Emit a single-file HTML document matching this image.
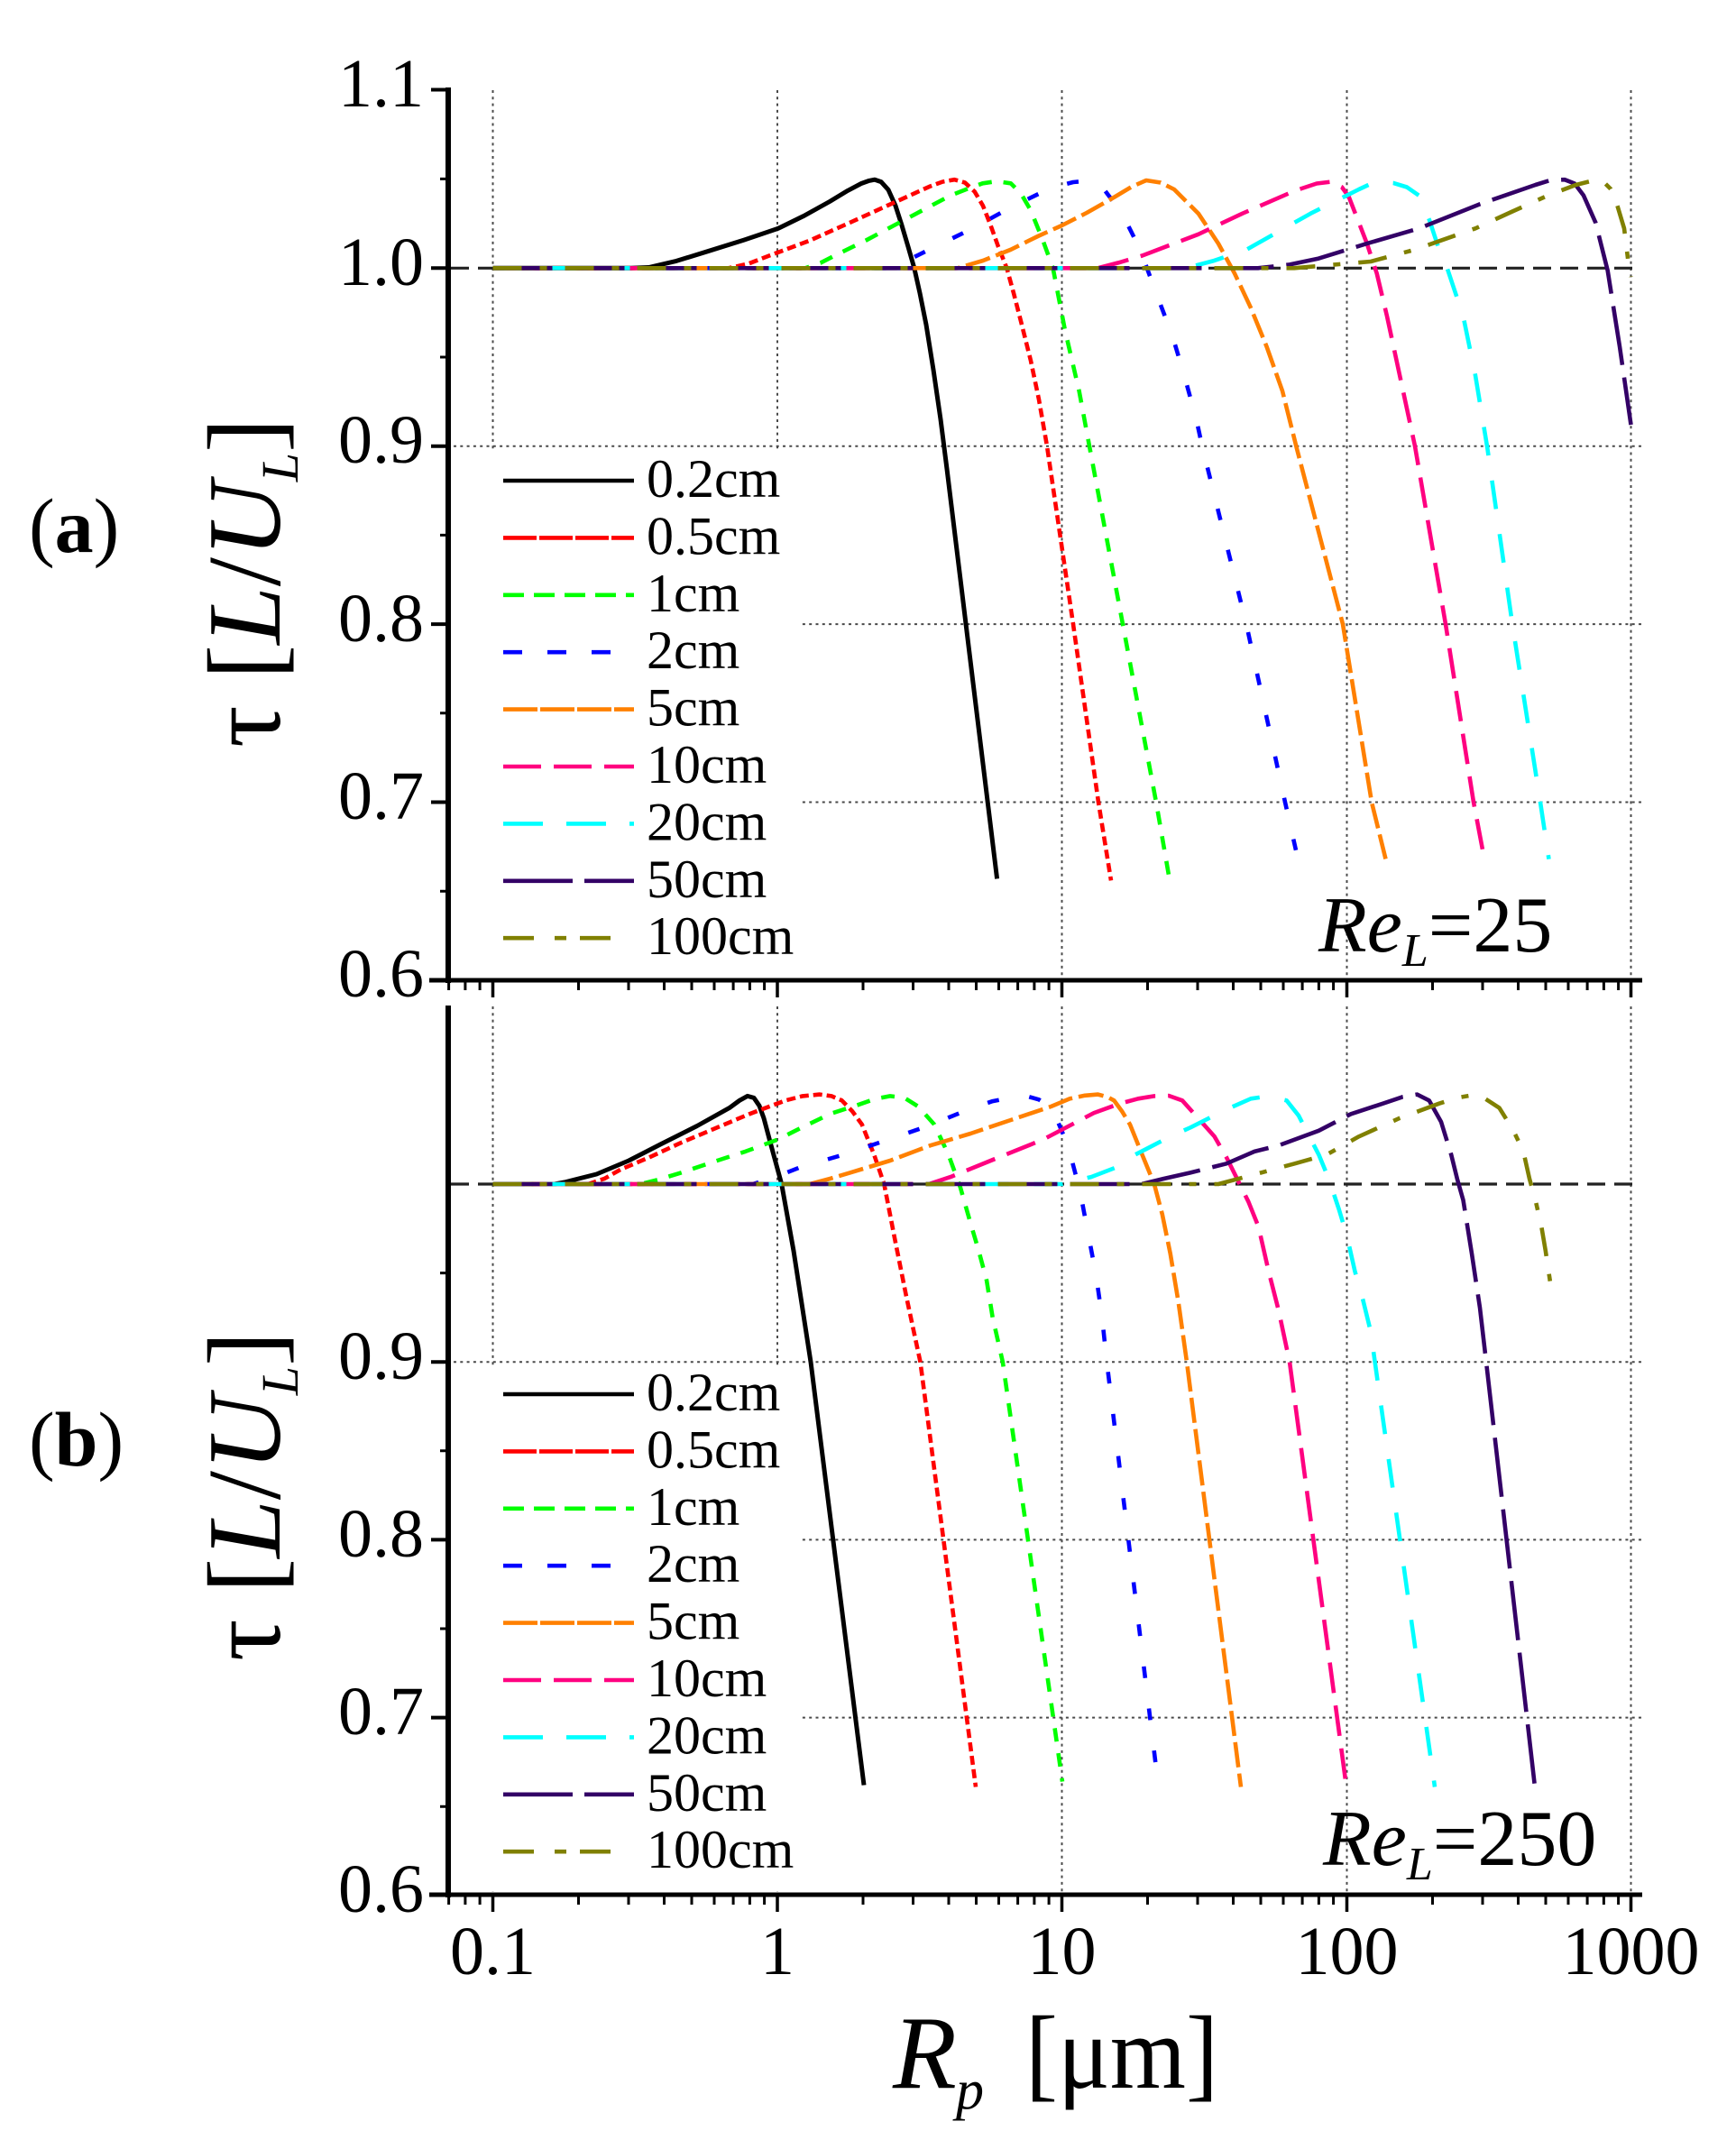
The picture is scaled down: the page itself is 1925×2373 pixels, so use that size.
<!DOCTYPE html>
<html>
<head>
<meta charset="utf-8">
<style>
html,body{margin:0;padding:0;background:#fff;}
svg{display:block;}
text{font-family:"Liberation Serif","Times New Roman",serif;fill:#000;}
</style>
</head>
<body>
<svg xmlns="http://www.w3.org/2000/svg" width="1925" height="2373" viewBox="0 0 1925 2373">
<rect width="1925" height="2373" fill="#fff"/>

<!-- gridlines -->
<g stroke="#4a4a4a" stroke-width="2" stroke-dasharray="3 4.3" fill="none">
<path d="M546.5 100V1085 M862 100V1085 M1177.5 100V1085 M1493.5 100V1085 M1808.5 100V1085 M503 494.7H1820 M503 692.1H1820 M503 889.5H1820"/>
<path d="M546.5 1116V2099 M862 1116V2099 M1177.5 1116V2099 M1493.5 1116V2099 M1808.5 1116V2099 M503 1510.2H1820 M503 1707.4H1820 M503 1904.6H1820"/>
</g>
<!-- legend boxes -->
<rect x="502" y="500" width="385" height="583" fill="#fff"/>
<rect x="502" y="1514" width="385" height="583" fill="#fff"/>

<!-- 1.0 dashed reference lines -->
<path d="M500 297.3H1820 M500 1313H1820" stroke="#222" stroke-width="3.2" stroke-dasharray="20 10" fill="none"/>

<!-- Panel a curves -->
<g fill="none" stroke-linejoin="round" stroke-width="4.6">
<polyline stroke="#000" stroke-width="5" points="546.5,297.3 700,297.3 719.5,296.5 750,289.4 786,278.3 825,266.1 863,253.3 892,239.1 920,223.5 940,211.4 955,203.5 963,200.6 970,199.2 977,201.6 985,210.4 993,228.2 1000,249.9 1007,273.6 1013.8,297.3 1020,325 1027,360 1035,410 1043,465 1050,520 1105.6,974.4"/>
<polyline stroke="#ff0000" stroke-dasharray="10 5" points="546.5,297.3 808,297.3 830,292.4 853,283.5 898,266.7 942.5,246.8 987,226.6 1031.6,206.5 1045,201.6 1058.4,199.2 1070,202.5 1080.7,212.4 1090,228.2 1098.5,249.9 1107,273.6 1116.4,297.3 1124,325 1133,360 1143,400 1152,443 1161,494.7 1190,692.1 1218,889.5 1232,976.4"/>
<polyline stroke="#00ff00" stroke-dasharray="15 13" points="546.5,297.3 893,297.3 910,291.4 929,281.7 960,266.7 991.5,249.9 1022.7,233.3 1054,216.8 1075,208.5 1089.6,203.3 1105,201 1120.8,203.3 1132,214.4 1143,233.3 1156.5,266.7 1167.6,297.3 1181,366.4 1196.6,433.5 1208,494.7 1245,692.1 1282,889.5 1296,970.4"/>
<polyline stroke="#0000ff" stroke-dasharray="13 34" points="546.5,297.3 982,297.3 1005,289.4 1034,275 1078.5,253.3 1120.8,230 1165.4,208.3 1190,202 1205,200.6 1220,204.5 1244,236.1 1264.3,276.8 1282,324.9 1300,372.3 1313,415.7 1326.6,465.1 1333,494.7 1382,692.1 1425,889.5 1437,942.8"/>
<polyline stroke="#ff8000" stroke-dasharray="28 7" points="546.5,297.3 1062,297.3 1090,289 1120.8,276.8 1150.8,262 1177.5,250 1205,236 1235,219 1255,207 1271,200 1287,202.5 1302,210 1328.8,236.7 1351,270.1 1369,303.2 1386.7,340.7 1404.5,384.2 1422,433.5 1437.8,496.7 1489,692.1 1521,889.5 1538,958.6"/>
<polyline stroke="#ff0080" stroke-dasharray="34 14" points="546.5,297.3 1217,297.3 1240,291.4 1266.5,283.5 1328.8,259.8 1377.8,236.7 1435.6,211.6 1460,203.5 1475.6,201.6 1488,207.5 1495.7,218.3 1506.8,246.8 1515.8,270.1 1526.7,303.2 1538,350.6 1569,494.7 1603,692.1 1634,889.5 1646,952.7"/>
<polyline stroke="#00ffff" stroke-dasharray="32 28" points="546.5,297.3 1315,297.3 1345,289.4 1382.2,276.8 1453.4,236.7 1506.8,210 1524.6,201.7 1545,202.9 1560,207.5 1573.5,216.8 1585,244 1595.8,276.8 1604.7,297.3 1622.5,350.6 1635.9,415.7 1649.3,496.7 1677,692.1 1708,889.5 1717.5,952.7"/>
<polyline stroke="#330066" stroke-dasharray="66 14" points="546.5,297.3 1395,297.3 1430,293.4 1462.3,286.6 1515.7,270.1 1573.5,253.3 1640.3,226.6 1702.6,205 1720,199.6 1735,199.2 1746,203.5 1756,216.8 1769.3,246.8 1782.7,300.1 1796,384.2 1808.5,471"/>
<polyline stroke="#808000" stroke-dasharray="32 20 8 20" points="546.5,297.3 1435,297.3 1520,290 1569,276.8 1636,253.3 1676.2,234.9 1716.3,216.8 1747.5,205 1765,200.6 1777,200.6 1786,209.5 1792,223.3 1801,253.3 1805.5,290 1808.5,307"/>
</g>

<!-- Panel b curves -->
<g fill="none" stroke-linejoin="round" stroke-width="4.6">
<polyline stroke="#000" stroke-width="5" points="546.5,1313 615,1313 625.9,1311 661.5,1302 697.2,1287 733,1268.6 773,1248.5 808.7,1228.6 820,1220.3 828.8,1215.4 836,1217.4 842,1226.2 847,1240 853.3,1263.7 866.7,1313 880,1387 899,1510.2 958,1979.5"/>
<polyline stroke="#ff0000" stroke-dasharray="10 5" points="546.5,1313 652,1313 670,1307.1 688.3,1296.8 719.5,1283.6 755.2,1267.1 790.9,1252.1 831,1235.3 871,1220.3 890,1215.4 909,1213.6 922,1215.4 933.5,1220.3 945,1232.1 955.8,1246.9 969.2,1280.3 980.4,1313 991.5,1370.2 1004.9,1437.2 1020.5,1510.2 1082,1981.5"/>
<polyline stroke="#00ff00" stroke-dasharray="15 13" points="546.5,1313 710,1313 730,1308.1 755.2,1300.4 795.3,1287 826.5,1276.9 862.2,1263.7 889,1250.3 920.2,1235.3 951.4,1225.2 970,1218.7 987,1215.4 1003,1217.4 1018.2,1227 1036,1246.9 1051.7,1280.3 1065,1317 1076.2,1356.4 1085,1386 1094,1419.5 1100.7,1460.9 1111.9,1510.2 1178,1975.6"/>
<polyline stroke="#0000ff" stroke-dasharray="13 34" points="546.5,1313 835,1313 860,1305.1 889,1293.7 935.8,1280.3 984.8,1263.7 1029.4,1248.5 1074,1230.2 1100,1221.3 1120.8,1217 1138,1215.4 1152,1219.3 1166.4,1228.2 1184.2,1270.2 1197.5,1320.3 1206.4,1366.8 1215.3,1413.6 1222,1460.3 1227.3,1510.2 1285,1985"/>
<polyline stroke="#ff8000" stroke-dasharray="28 7" points="546.5,1313 898,1313 920,1307.1 942.5,1300.4 987,1287 1031.6,1270.2 1076.2,1257 1120.8,1242 1165.4,1227 1186.4,1218.3 1203,1214.8 1217.5,1213.6 1228,1216.4 1235.3,1220.3 1244,1232.1 1253,1246.9 1266.5,1280.3 1279.9,1313 1288.8,1346.5 1297.7,1389.9 1306.6,1443.2 1316,1510.2 1376,1981.5"/>
<polyline stroke="#ff0080" stroke-dasharray="34 14" points="546.5,1313 1030,1313 1054,1305.1 1107.4,1283.4 1156.5,1263.7 1213,1234.1 1240,1224.3 1262,1218.3 1280,1215.4 1296,1215 1311,1220.3 1328.8,1240.2 1346.6,1260.1 1360,1283.4 1373.3,1310.2 1384.4,1332.7 1395.5,1360.3 1406.7,1409.6 1417.8,1453 1430,1510.2 1493,1981.5"/>
<polyline stroke="#00ffff" stroke-dasharray="32 28" points="546.5,1313 1177.5,1313 1210,1305.1 1239.8,1293.7 1253,1283.4 1298,1260.1 1320,1250.3 1360,1230.2 1387,1218.3 1400,1216.4 1415,1217.4 1426.7,1220.3 1440,1237.1 1462.3,1280.3 1473.4,1307.1 1484.6,1340.6 1493.5,1370.2 1502.4,1409.6 1511.3,1441.2 1520,1476.7 1524.6,1510.2 1591,1981.5"/>
<polyline stroke="#330066" stroke-dasharray="66 14" points="546.5,1313 1266,1313 1290,1307.1 1319.9,1300.4 1360,1290.3 1391,1276.9 1417.8,1270.2 1462.3,1253.8 1498,1235.3 1533.5,1223.7 1555,1216.4 1571.3,1213.6 1584.7,1220.3 1598,1244 1609.2,1280.3 1615.8,1307.1 1622.5,1330.7 1632,1390 1641,1450 1648,1510.2 1702,1981.5"/>
<polyline stroke="#808000" stroke-dasharray="32 20 8 20" points="546.5,1313 1351,1313 1386.7,1303.5 1435.6,1290.3 1471.2,1280.3 1506.8,1260.3 1551.3,1240.2 1595.8,1223.7 1615,1217.4 1631.4,1214.6 1644.8,1217 1662.6,1228.6 1678,1253.4 1689.2,1276.7 1696,1307.1 1702.6,1330.7 1709.3,1360.3 1713.8,1386.8 1720.5,1431.9"/>
</g>

<!-- Axes -->
<g stroke="#000" fill="none">
<path d="M497 97V1090" stroke-width="6"/>
<path d="M476 1087H1821" stroke-width="5"/>
<path d="M478 99.5H497 M478 297.3H497 M478 494.7H497 M478 692.1H497 M478 889.5H497" stroke-width="4"/>
<path d="M488 198.4H497 M488 396H497 M488 593.4H497 M488 790.8H497 M488 988.2H497" stroke-width="3"/>
<path d="M546.5 1087v19 M862 1087v19 M1177.5 1087v19 M1493.5 1087v19 M1808.5 1087v19" stroke-width="3.5"/>
<path d="M497.6 1087v11 M515.9 1087v11 M532.1 1087v11 M641.5 1087v11 M697 1087v11 M736.5 1087v11 M767 1087v11 M792 1087v11 M813.1 1087v11 M831.4 1087v11 M847.6 1087v11 M957 1087v11 M1012.5 1087v11 M1052 1087v11 M1082.5 1087v11 M1107.5 1087v11 M1128.6 1087v11 M1146.9 1087v11 M1163.1 1087v11 M1272.5 1087v11 M1328 1087v11 M1367.5 1087v11 M1398 1087v11 M1423 1087v11 M1444.1 1087v11 M1462.4 1087v11 M1478.6 1087v11 M1588.5 1087v11 M1644 1087v11 M1683.5 1087v11 M1714 1087v11 M1739 1087v11 M1760.1 1087v11 M1778.4 1087v11 M1794.6 1087v11" stroke-width="3"/>

<path d="M497 1115V2104" stroke-width="6"/>
<path d="M476 2101H1821" stroke-width="5"/>
<path d="M478 1510.2H497 M478 1707.4H497 M478 1904.6H497" stroke-width="4"/>
<path d="M488 1411.6H497 M488 1608.8H497 M488 1806H497 M488 2003.2H497" stroke-width="3"/>
<path d="M546.5 2101v19 M862 2101v19 M1177.5 2101v19 M1493.5 2101v19 M1808.5 2101v19" stroke-width="3.5"/>
<path d="M497.6 2101v11 M515.9 2101v11 M532.1 2101v11 M641.5 2101v11 M697 2101v11 M736.5 2101v11 M767 2101v11 M792 2101v11 M813.1 2101v11 M831.4 2101v11 M847.6 2101v11 M957 2101v11 M1012.5 2101v11 M1052 2101v11 M1082.5 2101v11 M1107.5 2101v11 M1128.6 2101v11 M1146.9 2101v11 M1163.1 2101v11 M1272.5 2101v11 M1328 2101v11 M1367.5 2101v11 M1398 2101v11 M1423 2101v11 M1444.1 2101v11 M1462.4 2101v11 M1478.6 2101v11 M1588.5 2101v11 M1644 2101v11 M1683.5 2101v11 M1714 2101v11 M1739 2101v11 M1760.1 2101v11 M1778.4 2101v11 M1794.6 2101v11" stroke-width="3"/>
</g>

<!-- Y tick labels -->
<g font-size="76" text-anchor="end">
<text x="470" y="118">1.1</text>
<text x="470" y="316">1.0</text>
<text x="470" y="513">0.9</text>
<text x="470" y="711">0.8</text>
<text x="470" y="908">0.7</text>
<text x="470" y="1105">0.6</text>
<text x="470" y="1529">0.9</text>
<text x="470" y="1726">0.8</text>
<text x="470" y="1923">0.7</text>
<text x="470" y="2120">0.6</text>
</g>

<!-- X tick labels -->
<g font-size="76" text-anchor="middle">
<text x="546.5" y="2189">0.1</text>
<text x="862" y="2189">1</text>
<text x="1177.5" y="2189">10</text>
<text x="1493.5" y="2189">100</text>
<text x="1808.5" y="2189">1000</text>
</g>

<!-- Legend a -->
<g fill="none" stroke-width="4.6">
<path d="M558 533H703" stroke="#000"/>
<path d="M558 596.4H703" stroke="#ff0000" stroke-dasharray="37 3"/>
<path d="M558 659.8H703" stroke="#00ff00" stroke-dasharray="23 11"/>
<path d="M558 723.2H703" stroke="#0000ff" stroke-dasharray="21 28"/>
<path d="M558 786.6H703" stroke="#ff8000" stroke-dasharray="38 3"/>
<path d="M558 850H703" stroke="#ff0080" stroke-dasharray="42 14"/>
<path d="M558 913.4H703" stroke="#00ffff" stroke-dasharray="44 26"/>
<path d="M558 976.8H703" stroke="#330066" stroke-dasharray="77 13"/>
<path d="M558 1040.2H690" stroke="#808000" stroke-dasharray="34 23 13 15"/>
</g>
<g font-size="60">
<text x="717" y="551">0.2cm</text>
<text x="717" y="614.4">0.5cm</text>
<text x="717" y="677.8">1cm</text>
<text x="717" y="741.2">2cm</text>
<text x="717" y="804.6">5cm</text>
<text x="717" y="868">10cm</text>
<text x="717" y="931.4">20cm</text>
<text x="717" y="994.8">50cm</text>
<text x="717" y="1058.2">100cm</text>
</g>

<!-- Legend b -->
<g fill="none" stroke-width="4.6">
<path d="M558 1546H703" stroke="#000"/>
<path d="M558 1609.4H703" stroke="#ff0000" stroke-dasharray="37 3"/>
<path d="M558 1672.8H703" stroke="#00ff00" stroke-dasharray="23 11"/>
<path d="M558 1736.2H703" stroke="#0000ff" stroke-dasharray="21 28"/>
<path d="M558 1799.6H703" stroke="#ff8000" stroke-dasharray="38 3"/>
<path d="M558 1863H703" stroke="#ff0080" stroke-dasharray="42 14"/>
<path d="M558 1926.4H703" stroke="#00ffff" stroke-dasharray="44 26"/>
<path d="M558 1989.8H703" stroke="#330066" stroke-dasharray="77 13"/>
<path d="M558 2053.2H690" stroke="#808000" stroke-dasharray="34 23 13 15"/>
</g>
<g font-size="60">
<text x="717" y="1564">0.2cm</text>
<text x="717" y="1627.4">0.5cm</text>
<text x="717" y="1690.8">1cm</text>
<text x="717" y="1754.2">2cm</text>
<text x="717" y="1817.6">5cm</text>
<text x="717" y="1881">10cm</text>
<text x="717" y="1944.4">20cm</text>
<text x="717" y="2007.8">50cm</text>
<text x="717" y="2071.2">100cm</text>
</g>

<!-- Re labels -->
<text x="1462" y="1055" font-size="88"><tspan font-style="italic">Re</tspan><tspan font-style="italic" font-size="52" dy="16">L</tspan><tspan dy="-16">=25</tspan></text>
<text x="1467" y="2068" font-size="88"><tspan font-style="italic">Re</tspan><tspan font-style="italic" font-size="52" dy="16">L</tspan><tspan dy="-16">=250</tspan></text>

<!-- Y axis titles -->
<text transform="translate(310 829) rotate(-90)" font-size="116">τ [<tspan font-style="italic">L</tspan>/<tspan font-style="italic">U</tspan><tspan font-style="italic" font-size="58" dy="20">L</tspan><tspan dy="-20">]</tspan></text>
<text transform="translate(310 1842) rotate(-90)" font-size="116">τ [<tspan font-style="italic">L</tspan>/<tspan font-style="italic">U</tspan><tspan font-style="italic" font-size="58" dy="20">L</tspan><tspan dy="-20">]</tspan></text>

<!-- Panel labels -->
<text x="32" y="612" font-size="86">(<tspan font-weight="bold">a</tspan>)</text>
<text x="32" y="1625" font-size="86">(<tspan font-weight="bold">b</tspan>)</text>

<!-- X axis title -->
<text x="990" y="2315" font-size="116" font-style="italic">R</text>
<text x="1060" y="2338" font-size="62" font-style="italic">p</text>
<text x="1137" y="2315" font-size="116" textLength="214" lengthAdjust="spacingAndGlyphs">[μm]</text>
</svg>
</body>
</html>
